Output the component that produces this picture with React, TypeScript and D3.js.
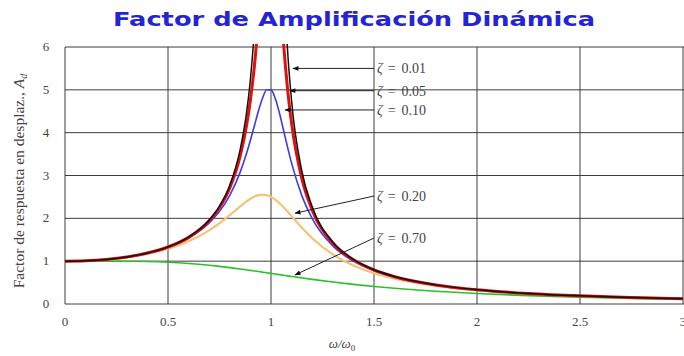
import React from "react";
import * as d3 from "d3";

// Frequency ratio ω/ω0 sampled for every curve
const ratios = [0, 0.1, 0.2, 0.3, 0.4, 0.5, 0.6, 0.7, 0.75, 0.8, 0.85, 0.88, 0.9, 0.92, 0.94, 0.96, 0.98, 1.0,
  1.02, 1.04, 1.06, 1.08, 1.1, 1.15, 1.2, 1.3, 1.4, 1.5, 1.6, 1.8, 2.0, 2.25, 2.5, 2.75, 3.0];

// Displacement response factor Ad for each damping ratio
const ad001 = [1, 1.0101, 1.0417, 1.0989, 1.1905, 1.3333, 1.5625, 1.9607, 2.2857, 2.775, 3.597, 4.419, 5.24, 6.464, 8.48, 12.39, 22.63, 50,
  22.1, 11.87, 7.974, 5.96, 4.736, 3.093, 2.269, 1.448, 1.0412, 0.7998, 0.641, 0.4464, 0.3333, 0.2462, 0.1905, 0.1524, 0.125];
const ad005 = [1, 1.01, 1.0414, 1.0983, 1.1891, 1.3304, 1.5557, 1.9426, 2.2529, 2.7116, 3.4455, 4.1296, 4.7565, 5.585, 6.684, 8.068, 9.461, 10,
  9.115, 7.565, 6.141, 5.041, 4.218, 2.921, 2.1926, 1.4242, 1.0308, 0.7943, 0.6377, 0.445, 0.3326, 0.2458, 0.1903, 0.1522, 0.1249];
const ad010 = [1, 1.0099, 1.0408, 1.0965, 1.1851, 1.3216, 1.5357, 1.8908, 2.1621, 2.5383, 3.0728, 3.4949, 3.8208, 4.1722, 4.5225, 4.8218, 5.001, 5.0,
  4.8086, 4.4755, 4.075, 3.6675, 3.288, 2.5245, 1.9952, 1.3562, 1.0, 0.7779, 0.6279, 0.4408, 0.3304, 0.2447, 0.1896, 0.1518, 0.1247];
const ad020 = [1, 1.0093, 1.0381, 1.0895, 1.1695, 1.2883, 1.463, 1.7188, 1.8851, 2.0761, 2.2786, 2.3918, 2.4566, 2.5077, 2.5406, 2.5515, 2.5381, 2.5,
  2.4391, 2.3589, 2.2642, 2.1601, 2.0511, 1.78, 1.5357, 1.1574, 0.8998, 0.7212, 0.5931, 0.425, 0.3221, 0.2403, 0.1871, 0.1503, 0.1236];
const ad070 = [1, 1.0002, 1.0, 0.9978, 0.9905, 0.9747, 0.9469, 0.9052, 0.8791, 0.85, 0.8184, 0.7984, 0.7848, 0.7709, 0.7569, 0.7428, 0.7286, 0.7143,
  0.7, 0.6857, 0.6715, 0.6574, 0.6434, 0.609, 0.5758, 0.5138, 0.4582, 0.4092, 0.3663, 0.2966, 0.2437, 0.1945, 0.1585, 0.1314, 0.1107];

const xTicks = [0, 0.5, 1, 1.5, 2, 2.5, 3];
const xTickLabels = ["0", "0.5", "1", "1.5", "2", "2.5", "3"];
const yTicks = [0, 1, 2, 3, 4, 5, 6];

// Labels with arrows: label anchor (x, y) and arrow tip (tipX, tipY), in data units
const labelValues = ["0.01", "0.05", "0.10", "0.20", "0.70"];
const labelX = [1.5, 1.5, 1.5, 1.5, 1.5];
const labelY = [5.5, 4.98, 4.53, 2.52, 1.54];
const tipX = [1.107, 1.092, 1.068, 1.117, 1.117];
const tipY = [5.5, 4.98, 4.53, 2.12, 0.68];

const W = 684;
const H = 356;
const left = 65;
const right = 683;
const top = 47;
const bottom = 304;

export default function App() {
  const x = d3.scaleLinear().domain([0, 3]).range([left, right]);
  const y = d3.scaleLinear().domain([0, 6]).range([bottom, top]);

  const mkLine = (vals: number[]) =>
    d3.line<number>()
      .x((_, i) => x(ratios[i]))
      .y((v) => y(Math.min(v, 12)))
      .curve(d3.curveMonotoneX)(vals) || "";

  const series = [
    { vals: ad070, color: "#2cbf2c", w: 1.6 },
    { vals: ad020, color: "#f3c477", w: 2.2 },
    { vals: ad010, color: "#3b3bea", w: 1.6 },
    { vals: ad005, color: "#e01010", w: 3 },
    { vals: ad001, color: "#111111", w: 1.5 },
  ];

  const serif = "'Liberation Serif', 'DejaVu Serif', serif";

  return (
    <svg width={W} height={H} style={{ position: "absolute", left: 0, top: 0, background: "#fff" }}>
      <defs>
        <clipPath id="plot">
          <rect x={left} y={top - 3} width={right - left + 2} height={bottom - top + 3} />
        </clipPath>
        <marker id="head" viewBox="0 0 10 10" refX="9" refY="5" markerWidth="7" markerHeight="6" orient="auto">
          <path d="M0,1 L10,5 L0,9 Z" fill="#111" />
        </marker>
      </defs>

      <text
        x={354}
        y={26}
        textAnchor="middle"
        fontFamily="'DejaVu Sans', sans-serif"
        fontWeight="bold"
        fontSize={19}
        fill="#2424d6"
        textLength={482}
        lengthAdjust="spacingAndGlyphs"
      >
        Factor de Amplificación Dinámica
      </text>

      {/* grid */}
      {xTicks.map((t) => (
        <line key={"gx" + t} x1={x(t)} x2={x(t)} y1={top} y2={bottom} stroke="#3c3c3c" strokeWidth={1} />
      ))}
      {yTicks.map((t) => (
        <line key={"gy" + t} x1={left} x2={right + 1} y1={y(t)} y2={y(t)} stroke="#3c3c3c" strokeWidth={1} />
      ))}

      {/* curves */}
      <g clipPath="url(#plot)">
        {series.map((s, i) => (
          <path key={i} d={mkLine(s.vals)} fill="none" stroke={s.color} strokeWidth={s.w} strokeLinejoin="round" />
        ))}
      </g>

      {/* tick labels */}
      {xTicks.map((t, i) => (
        <text key={"tx" + t} x={x(t)} y={326} textAnchor="middle" fontFamily={serif} fontSize={13} fill="#444">
          {xTickLabels[i]}
        </text>
      ))}
      {yTicks.map((t) => (
        <text key={"ty" + t} x={46} y={y(t) + 4} textAnchor="middle" fontFamily={serif} fontSize={13} fill="#444">
          {t}
        </text>
      ))}

      {/* axis titles */}
      <text x={342} y={348} textAnchor="middle" fontFamily={serif} fontStyle="italic" fontSize={13} fill="#444">
        ω/ω<tspan fontSize={9} dy={3} fontStyle="normal">0</tspan>
      </text>
      <text
        transform={`translate(24, ${181}) rotate(-90)`}
        textAnchor="middle"
        fontFamily={serif}
        fontSize={15.5}
        fill="#444"
      >
        Factor de respuesta en desplaz., <tspan fontStyle="italic">A</tspan>
        <tspan fontSize={10} dy={3} fontStyle="italic">d</tspan>
      </text>

      {/* damping annotations */}
      {labelValues.map((v, i) => (
        <g key={v}>
          <line
            x1={x(labelX[i])}
            y1={y(labelY[i])}
            x2={x(tipX[i])}
            y2={y(tipY[i])}
            stroke="#222"
            strokeWidth={1}
            markerEnd="url(#head)"
          />
          <text x={x(labelX[i]) + 3} y={y(labelY[i]) + 5} fontFamily={serif} fontSize={14} fill="#444">
            <tspan fontStyle="italic">ζ</tspan>
            <tspan dx={5}>=</tspan>
            <tspan dx={6}>{v}</tspan>
          </text>
        </g>
      ))}
    </svg>
  );
}
